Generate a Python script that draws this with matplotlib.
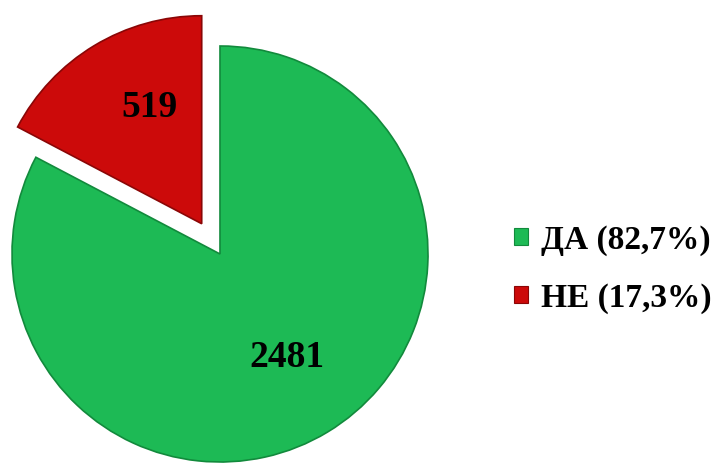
import matplotlib
matplotlib.use("Agg")
import matplotlib.pyplot as plt
from matplotlib.patches import Patch

categories = ["ДА", "НЕ"]
values = [2481, 519]
percents = ["82,7%", "17,3%"]
colors = ["#1DBA55", "#CC0A0A"]
edges = ["#128a3c", "#8a0606"]
explode = [0.0, 0.17]

W, H = 713, 468
fig = plt.figure(figsize=(W / 100, H / 100), dpi=100)
ax = fig.add_axes([0, 0, 1, 1])
scale = 208.0
cx, cy = 220.0, 254.0

wedges, texts, autotexts = ax.pie(
    values, colors=colors, explode=explode, startangle=90, counterclock=False,
    autopct=lambda p: f"{round(p * sum(values) / 100):d}", pctdistance=0.62,
    wedgeprops=dict(linewidth=1.2), frame=False,
    textprops=dict(family="Liberation Serif", fontweight="bold", fontsize=27, color="black"))
for w, e in zip(wedges, edges):
    w.set_edgecolor(e)
x, y = autotexts[1].get_position()
autotexts[1].set_position((x + 0.07, y + 0.03))
x, y = autotexts[0].get_position()
autotexts[0].set_position((x, y + 0.035))

ax.set_aspect("auto")
ax.set_xlim(-cx / scale, (W - cx) / scale)
ax.set_ylim(-(H - cy) / scale, cy / scale)
ax.axis("off")

handles = [Patch(facecolor=c, edgecolor=e, linewidth=0.8) for c, e in zip(colors, edges)]
labels = [f"{c} ({p})" for c, p in zip(categories, percents)]
leg = fig.legend(handles, labels, loc="center left",
                 bbox_to_anchor=(497 / W, 1 - 269 / H),
                 frameon=False, handlelength=0.42, handleheight=0.42, handletextpad=0.4,
                 labelspacing=0.8, borderpad=0,
                 prop=dict(family="Liberation Serif", weight="bold", size=24))

fig.savefig("out.png", dpi=100)
